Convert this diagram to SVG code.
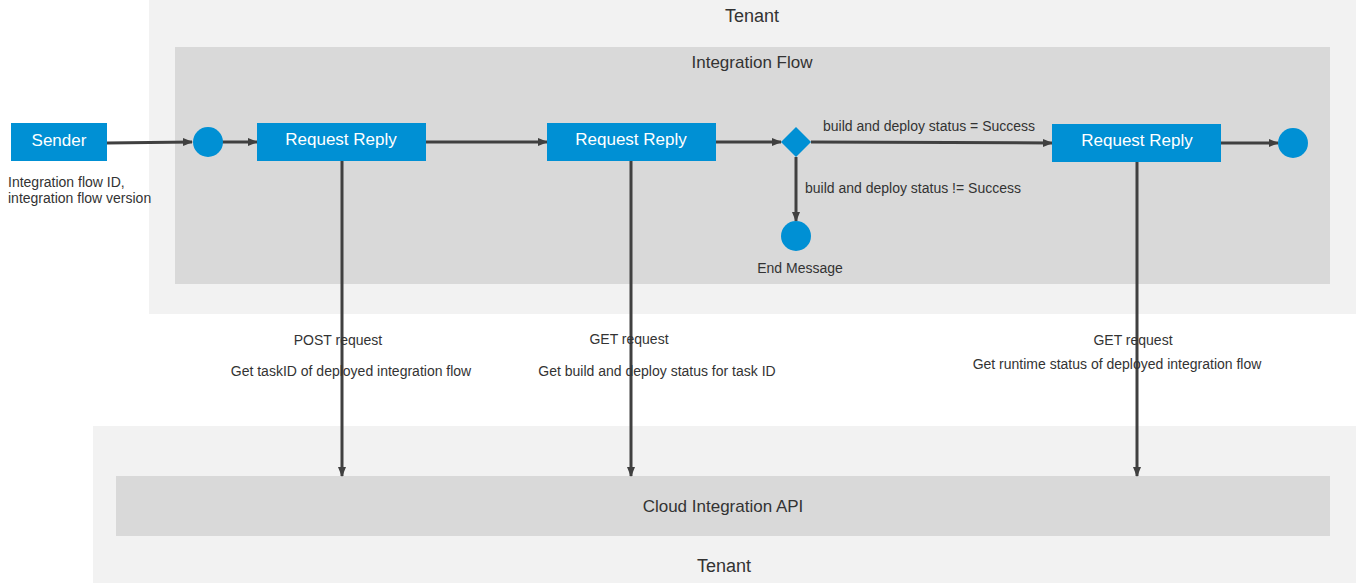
<svg xmlns="http://www.w3.org/2000/svg" width="1356" height="587" viewBox="0 0 1356 587">
<style>
text{font-family:"Liberation Sans",Arial,sans-serif;fill:#333333}
.lbl{font-size:14px}
.wt{fill:#ffffff;font-size:17px}
.ttl{font-size:18px}
.sub{font-size:17px}
.blue{fill:#0090d4}
.ln{stroke:#404040;stroke-width:3;fill:none}
</style>
<defs>
<marker id="ah" markerWidth="10" markerHeight="10" refX="9" refY="5" orient="auto" markerUnits="userSpaceOnUse">
<path d="M0,1 L10,5 L0,9 Z" fill="#404040"/>
</marker>
</defs>
<g id="tenant-top">
<rect x="149" y="0" width="1207" height="314" fill="#f2f2f2"/>
<text class="ttl" x="752" y="22" text-anchor="middle">Tenant</text>
</g>
<g id="integration-flow">
<rect x="175" y="47" width="1155" height="237" fill="#d9d9d9"/>
<text class="sub" x="752" y="68" text-anchor="middle">Integration Flow</text>
</g>
<g id="tenant-bottom">
<rect x="93" y="426" width="1263" height="157" fill="#f2f2f2"/>
<text class="ttl" x="724" y="572" text-anchor="middle">Tenant</text>
</g>
<g id="cloud-api">
<rect x="116" y="476" width="1214" height="60" fill="#d9d9d9"/>
<text class="sub" x="723" y="512" text-anchor="middle">Cloud Integration API</text>
</g>
<g id="connectors">
<line class="ln" x1="107" y1="143" x2="192" y2="142" marker-end="url(#ah)"/>
<line class="ln" x1="222" y1="142" x2="257" y2="142" marker-end="url(#ah)"/>
<line class="ln" x1="426" y1="142" x2="547" y2="142" marker-end="url(#ah)"/>
<line class="ln" x1="716" y1="142" x2="781" y2="142" marker-end="url(#ah)"/>
<line class="ln" x1="811" y1="142" x2="1052" y2="143" marker-end="url(#ah)"/>
<line class="ln" x1="1221" y1="143" x2="1278" y2="143" marker-end="url(#ah)"/>
<line class="ln" x1="796" y1="157" x2="796" y2="221" marker-end="url(#ah)"/>
<line class="ln" x1="342" y1="161" x2="342" y2="476" marker-end="url(#ah)"/>
<line class="ln" x1="631" y1="161" x2="631" y2="476" marker-end="url(#ah)"/>
<line class="ln" x1="1137" y1="162" x2="1137" y2="476" marker-end="url(#ah)"/>
</g>
<g id="sender">
<rect class="blue" x="11" y="123" width="96" height="38"/>
<text class="wt" x="59" y="146" text-anchor="middle">Sender</text>
<text class="lbl" x="8" y="187">Integration flow ID,</text>
<text class="lbl" x="8" y="203">integration flow version</text>
</g>
<g id="start">
<circle class="blue" cx="208" cy="142" r="15"/>
</g>
<g id="rr1">
<rect class="blue" x="257" y="123" width="169" height="38"/>
<text class="wt" x="341" y="145" text-anchor="middle">Request Reply</text>
</g>
<g id="rr2">
<rect class="blue" x="547" y="123" width="169" height="38"/>
<text class="wt" x="631" y="145" text-anchor="middle">Request Reply</text>
</g>
<g id="gateway">
<polygon class="blue" points="796,127 811,142 796,157 781,142"/>
<text class="lbl" x="823" y="131">build and deploy status = Success</text>
<text class="lbl" x="805" y="193">build and deploy status != Success</text>
</g>
<g id="end-message">
<circle class="blue" cx="796" cy="236" r="15"/>
<text class="lbl" x="800" y="273" text-anchor="middle">End Message</text>
</g>
<g id="rr3">
<rect class="blue" x="1052" y="124" width="169" height="38"/>
<text class="wt" x="1137" y="146" text-anchor="middle">Request Reply</text>
</g>
<g id="end">
<circle class="blue" cx="1293" cy="143" r="15"/>
</g>
<g id="labels">
<text class="lbl" x="338" y="345" text-anchor="middle">POST request</text>
<text class="lbl" x="351" y="376" text-anchor="middle">Get taskID of deployed integration flow</text>
<text class="lbl" x="629" y="344" text-anchor="middle">GET request</text>
<text class="lbl" x="657" y="376" text-anchor="middle">Get build and deploy status for task ID</text>
<text class="lbl" x="1133" y="345" text-anchor="middle">GET request</text>
<text class="lbl" x="1117" y="369" text-anchor="middle">Get runtime status of deployed integration flow</text>
</g>
</svg>
